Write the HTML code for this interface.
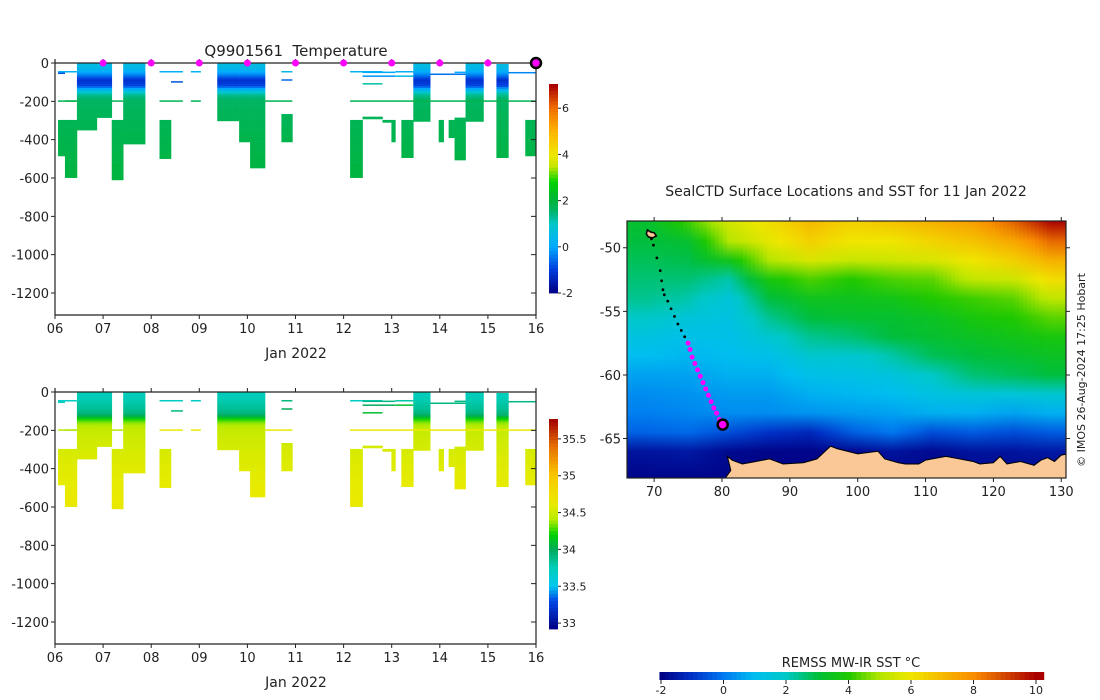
<!DOCTYPE html>
<html><head><meta charset="utf-8"><style>
body{margin:0;background:#fff;}
svg{display:block;font-family:"DejaVu Sans","Liberation Sans",sans-serif;}
text{fill:#222;white-space:pre;}
</style></head><body>
<svg id="s" width="1100" height="700" xmlns="http://www.w3.org/2000/svg">
<defs>
<clipPath id="mapclip"><rect x="627" y="221" width="439" height="257"/></clipPath>
</defs>
</svg>
<script>
// ---- data ----
const dayTicks=['06','07','08','09','10','11','12','13','14','15','16'];
const depthTicks=[0,-200,-400,-600,-800,-1000,-1200];
// profile columns: days since 06 Jan, depths in m
const colStart=[0.456,0.870,1.418,3.373,3.828,4.056,7.449,8.535,9.177,0.063,0.207,1.180,2.173,4.707,6.135,6.394,6.808,6.994,7.201,7.977,8.184,8.307,9.777];
const colEnd  =[0.870,1.180,1.873,3.828,4.056,4.366,7.800,8.907,9.425,0.207,0.456,1.418,2.411,4.935,6.394,6.808,6.994,7.076,7.449,8.080,8.307,8.535,10.0];
const colTop  =[0,0,0,0,0,0,0,0,5,297,297,297,297,266,297,280,297,297,297,297,297,285,297];
const colBot  =[350,285,423,302,412,548,305,305,494,485,598,610,499,412,598,292,310,412,494,412,390,506,485];
// thin lines
const lineStart=[0.063,0.207,1.180,2.173,2.825,4.366,6.135,0.063,2.173,2.825,4.707,6.135,6.394,7.076,7.800,8.307,9.425,2.411,4.707,6.394,7.076,0.063,6.394];
const lineEnd  =[0.456,0.456,1.418,2.659,3.032,4.935,10.0,0.456,2.659,3.032,4.935,6.808,7.076,7.449,8.535,8.535,10.0,2.659,4.935,7.076,7.449,0.207,6.808];
const lineDepth=[200,200,200,200,200,200,200,47,47,47,47,47,50,47,60,50,52,100,90,70,70,55,110];
const lineTemp =[1.8,1.8,1.8,1.8,1.8,1.8,1.8,0.2,0.2,0.2,0.5,0.3,0.0,0.2,-0.5,0.0,-0.3,-0.8,-0.6,-0.2,0.5,-0.8,1.2];
const lineSal  =[34.4,34.4,34.4,34.6,34.6,34.6,34.6,33.7,33.7,33.7,33.9,33.7,33.9,33.8,33.9,33.9,33.9,33.9,34.0,34.0,34.1,33.7,34.1];
// mean profiles
const profDepth=[0,30,60,90,120,140,160,190,250,350,500,650];
const profTemp =[0.6,0.4,-0.3,-1.2,-0.9,0.3,1.2,1.6,1.7,1.8,1.9,2.0];
const profSal  =[33.75,33.75,33.8,33.85,33.95,34.2,34.35,34.45,34.5,34.55,34.6,34.65];
const surfDays=[1,2,3,4,5,6,7,8,9];
const lastDay=10;
// track
const trackLon=[69.6,69.9,70.4,70.9,71.1,71.3,71.5,72.0,72.5,73.0,73.5,74.0,74.5,75.0,75.3,75.6,76.0,76.4,76.8,77.2,77.6,78.0,78.4,78.8,79.2,79.6,80.0];
const trackLat=[-49.3,-49.8,-50.8,-51.8,-52.6,-53.3,-53.7,-54.2,-54.8,-55.4,-56.0,-56.5,-57.0,-57.5,-58.0,-58.6,-59.1,-59.6,-60.1,-60.6,-61.1,-61.6,-62.1,-62.6,-63.0,-63.5,-63.9];
const trackMagentaFrom=13;
const sstTicks=[-2,0,2,4,6,8,10];
const lonTicks=[70,80,90,100,110,120,130];
const latTicks=[-50,-55,-60,-65];

const S=document.getElementById('s');
const NS='http://www.w3.org/2000/svg';
function mk(tag,at,parent){const e=document.createElementNS(NS,tag);for(const k in at)e.setAttribute(k,at[k]);(parent||S).appendChild(e);return e;}
function lerpC(stops,v){
  if(v<=stops[0][0])return stops[0].slice(1);
  for(let i=1;i<stops.length;i++){if(v<=stops[i][0]){const a=stops[i-1],b=stops[i],t=(v-a[0])/(b[0]-a[0]);return [0,1,2].map(j=>Math.round(a[j+1]+(b[j+1]-a[j+1])*t));}}
  return stops[stops.length-1].slice(1);}
const rgb=c=>`rgb(${c[0]},${c[1]},${c[2]})`;
const tStops=[[-2,0,0,130],[-1,0,60,220],[0,0,170,255],[1,0,200,200],[1.5,0,180,110],[2,0,180,60],[2.8,0,210,0],[3.5,200,230,0],[4,240,230,0],[5,255,180,0],[6,240,110,0],[7,170,0,0]];
const sStops=[[32.92,0,0,130],[33.3,0,70,230],[33.5,0,200,240],[33.75,0,205,185],[34,0,170,90],[34.2,0,210,0],[34.4,180,235,0],[34.6,232,235,0],[35,250,200,0],[35.4,230,110,0],[35.77,160,0,0]];
const sstStops=[[-2,0,0,130],[-1,0,50,200],[0,0,120,240],[1,0,190,240],[2,0,200,200],[3,0,190,60],[4,30,200,0],[5,180,230,0],[6,240,230,0],[8,250,140,0],[10,170,0,0]];
function prof(arr,d){for(let i=1;i<profDepth.length;i++){if(d<=profDepth[i]){const t=(d-profDepth[i-1])/(profDepth[i]-profDepth[i-1]);return arr[i-1]+(arr[i]-arr[i-1])*t;}}return arr[arr.length-1];}

function panel(y0,name,vals,stops,cbTop,cbBot,cbMin,cbMax,cbTicks,cbLabels,lineVals){
  const xL=55,xR=536,yBot=y0+252;
  const X=d=>xL+d*(xR-xL)/10, Y=m=>y0+m*230/1200;
  const g=mk('g',{});
  
  
  for(let i=0;i<colStart.length;i++){
    for(let d=colTop[i];d<colBot[i];d+=10){
      const d2=Math.min(d+10,colBot[i]);
      const r=mk('rect',{x:X(colStart[i]),y:Y(d),width:X(colEnd[i])-X(colStart[i])+0.3,height:Y(d2)-Y(d)+0.3,fill:rgb(lerpC(stops,prof(vals,d+5)))},g);
      
      
    }
  }
  for(let i=0;i<lineStart.length;i++){
    const r=mk('rect',{x:X(lineStart[i]),y:Y(lineDepth[i])-1,width:X(lineEnd[i])-X(lineStart[i]),height:1.5,fill:rgb(lerpC(stops,lineVals[i]))},g);
    
    
  }
  const fr=mk('path',{d:`M${xL} ${y0-4}V${yBot}H${xR}V${y0-4}M${xL} ${y0}H${xR}`,stroke:'#222','stroke-width':1.2,fill:'none'},g);
  
  
  dayTicks.forEach((t,i)=>{const x=X(i);
    const tk=mk('path',{d:`M${x} ${yBot}v4M${x} ${y0}v-4`,stroke:'#222'},g);
    
    
    const tx=mk('text',{x:x,y:yBot+18,'text-anchor':'middle','font-size':13},g);tx.textContent=t;
    
    });
  const xl=mk('text',{x:296,y:yBot+43,'text-anchor':'middle','font-size':14},g);xl.textContent='Jan 2022';
  
  
  depthTicks.forEach(v=>{const y=Y(-v);
    const tk=mk('path',{d:`M${xL} ${y}h-4M${xR} ${y}h-5`,stroke:'#222'},g);
    
    
    const tx=mk('text',{x:49,y:y+5,'text-anchor':'end','font-size':13},g);tx.textContent=v;
    
    });
  const cb=mk('g',{},g);
  
  
  const n=60,h=(cbBot-cbTop)/n;
  for(let i=0;i<n;i++){const v=cbMax-(i+0.5)*(cbMax-cbMin)/n;
    const r=mk('rect',{x:549,y:cbTop+i*h,width:9,height:h+0.4,fill:rgb(lerpC(stops,v))},cb);
    
    }
  cbTicks.forEach((v,i)=>{const y=cbBot-(v-cbMin)/(cbMax-cbMin)*(cbBot-cbTop);
    mk('path',{d:`M558 ${y}h3`,stroke:'#222'},cb);
    const tx=mk('text',{x:562,y:y+4,'font-size':11},cb);tx.textContent=cbLabels[i];
    
    });
  return {X,Y,y0};
}
const p1=panel(63,'temperature',profTemp,tStops,84,293,-2,7.05,[-2,0,2,4,6],['-2','0','2','4','6'],lineTemp);
const t1=mk('text',{x:296,y:56,'text-anchor':'middle','font-size':15});t1.textContent='Q9901561\u00a0\u00a0Temperature';


surfDays.forEach(d=>{const c=mk('circle',{cx:p1.X(d),cy:63,r:3.5,fill:'#ff00ff'});
  
  });
const lc=mk('circle',{cx:p1.X(lastDay),cy:63,r:5,fill:'#ff00ff',stroke:'#000','stroke-width':2.5});


panel(392,'salinity',profSal,sStops,419,629,32.92,35.77,[33,33.5,34,34.5,35,35.5],['33','33.5','34','34.5','35','35.5'],lineSal);

// ---- map ----
const mx0=627,mx1=1066,my0=221,my1=478;
const LX=l=>mx0+(l-66)*(mx1-mx0)/(130.7-66);
const LY=a=>my0+(-47.9-a)*(my1-my0)/(68.1-47.9);
const mg=mk('g',{'clip-path':'url(#mapclip)'});


const bandLon=[66,72,78,84,90,96,102,108,114,120,126,131];
const bandLat=[-47.9,-49.5,-51,-52.5,-54,-55.5,-57,-58.5,-60,-61.5,-63,-64.5,-66,-68.1];
const bandT=[
 [3.2,3.0,2.8,2.6,2.4,2.0,1.4,1.0,0.6,0.3,0.1,-0.3,-1.6,-1.9],
 [4.2,3.2,2.9,2.6,2.2,1.6,1.2,0.9,0.6,0.4,0.2,-0.2,-1.5,-1.9],
 [5.5,5.0,3.6,2.2,1.6,1.4,1.2,1.0,0.8,0.5,0.3,-0.6,-1.8,-1.9],
 [6.2,5.8,5.0,3.8,3.0,2.4,1.8,1.2,0.8,0.5,0.3,-1.0,-1.9,-1.9],
 [7.0,6.5,5.6,4.3,3.5,3.0,2.4,1.8,1.2,0.8,0.4,-1.2,-1.9,-1.9],
 [6.5,6.0,5.3,4.0,3.5,3.2,2.6,1.8,1.3,0.9,0.5,-0.4,-1.8,-1.9],
 [6.8,6.0,5.4,4.3,3.6,3.2,3.0,2.2,1.5,1.0,0.6,0.0,-1.6,-1.9],
 [7.2,6.4,5.6,4.4,4.0,3.4,3.2,2.8,2.0,1.4,0.8,-0.6,-1.8,-1.9],
 [7.6,6.8,6.0,5.2,4.2,3.8,3.4,3.0,2.6,1.6,0.8,-0.4,-1.6,-1.9],
 [8.6,7.4,6.5,5.4,4.4,4.0,3.6,3.2,2.8,1.6,0.6,-0.6,-1.6,-1.9],
 [10,8.5,7.2,6.2,5.2,4.4,3.8,3.4,3.0,1.8,0.8,-0.4,-1.5,-1.9]];
const defs=S.querySelector('defs');
const bandMid=bandLon.slice(0,-1).map((l,i)=>(l+bandLon[i+1])/2);
const step=4;
for(let k=0,x=mx0;x<mx1;x+=step,k++){
  const lon=66+(x+step/2-mx0)*(130.7-66)/(mx1-mx0);
  let i=0;while(i<bandMid.length-2&&lon>bandMid[i+1])i++;
  let t=(lon-bandMid[i])/(bandMid[i+1]-bandMid[i]);t=Math.max(0,Math.min(1,t));
  const gr=mk('linearGradient',{id:'bg'+k,x1:0,y1:0,x2:0,y2:1},defs);
  bandLat.forEach((a,j)=>{const v=bandT[i][j]*(1-t)+bandT[i+1][j]*t;
    mk('stop',{offset:(LY(a)-my0)/(my1-my0),'stop-color':rgb(lerpC(sstStops,v))},gr);});
  const r=mk('rect',{x:x,y:my0,width:step+0.5,height:my1-my0,fill:`url(#bg${k})`},mg);
  
  
}
const landLon=[80.8,81.5,83,85,87,88,89,92,94,96,97,100,103,104,106,107,109,110,113,115,117,118,120,121,122,124,126,127,128,129,130,131];
const landLat=[-66.4,-66.7,-67.0,-66.8,-66.6,-66.8,-67.0,-66.9,-66.6,-65.6,-65.8,-66.2,-66.0,-66.6,-66.9,-67.0,-67.0,-66.7,-66.4,-66.6,-66.8,-67.0,-66.9,-66.4,-67.0,-66.8,-67.1,-66.7,-66.5,-66.8,-66.3,-66.2];
let lp=`M${LX(80.5)} ${my1} L${LX(81.3)} ${LY(-67.5)}`;
landLon.forEach((l,i)=>lp+=` L${LX(l)} ${LY(landLat[i])}`);
lp+=` L${mx1+5} ${LY(-66.2)} L${mx1+5} ${my1+5} Z`;
const land=mk('path',{d:lp,fill:'#f9c896',stroke:'#000','stroke-width':1},mg);


const isl=mk('path',{d:`M${LX(69.0)} ${LY(-48.6)} l3 2 l4 1 l2 3 l-4 2 l-4 -1 l-2 -3 z`,fill:'#f9c896',stroke:'#000','stroke-width':1.5},mg);


trackLon.forEach((l,i)=>{const c=mk('circle',{cx:LX(l),cy:LY(trackLat[i]),r:i>=trackMagentaFrom?2.5:1.4,fill:i>=trackMagentaFrom?'#ff00ff':'#000'},mg);
  
  });
const ep=mk('circle',{cx:LX(80.1),cy:LY(-63.9),r:5,fill:'#ff00ff',stroke:'#000','stroke-width':2.5});


const mf=mk('rect',{x:mx0,y:my0,width:mx1-mx0,height:my1-my0,fill:'none',stroke:'#222','stroke-width':1.2});


lonTicks.forEach(l=>{const x=LX(l);mk('path',{d:`M${x} ${my1}v4M${x} ${my0}v-4`,stroke:'#222'});
  const t=mk('text',{x:x,y:my1+18,'text-anchor':'middle','font-size':13});t.textContent=l;
  
  });
latTicks.forEach(a=>{const y=LY(a);mk('path',{d:`M${mx0} ${y}h-4M${mx1} ${y}h4`,stroke:'#222'});
  const t=mk('text',{x:mx0-6,y:y+5,'text-anchor':'end','font-size':13});t.textContent=a;
  
  });
const mt=mk('text',{x:846,y:196,'text-anchor':'middle','font-size':14});mt.textContent='SealCTD Surface Locations and SST for 11 Jan 2022';


const cp=mk('text',{x:1085,y:370,'text-anchor':'middle','font-size':11,transform:'rotate(-90 1085 370)'});cp.textContent='© IMOS 26-Aug-2024 17:25 Hobart';


const sx=v=>661+(v+2)*31.25;
const scb=mk('g',{});


for(let i=0;i<80;i++){const v=-2.05+(i+0.5)*(12.3/80);
  const r=mk('rect',{x:sx(-2.05)+i*(12.3*31.25/80),y:672,width:12.3*31.25/80+0.4,height:8,fill:rgb(lerpC(sstStops,v))},scb);
  
  }
sstTicks.forEach(v=>{mk('path',{d:`M${sx(v)} 680v4`,stroke:'#222'},scb);
  const t=mk('text',{x:sx(v),y:694,'text-anchor':'middle','font-size':11},scb);t.textContent=v;
  
  });
const st=mk('text',{x:851,y:667,'text-anchor':'middle','font-size':13});st.textContent='REMSS MW-IR SST °C';


</script>
</body></html>
